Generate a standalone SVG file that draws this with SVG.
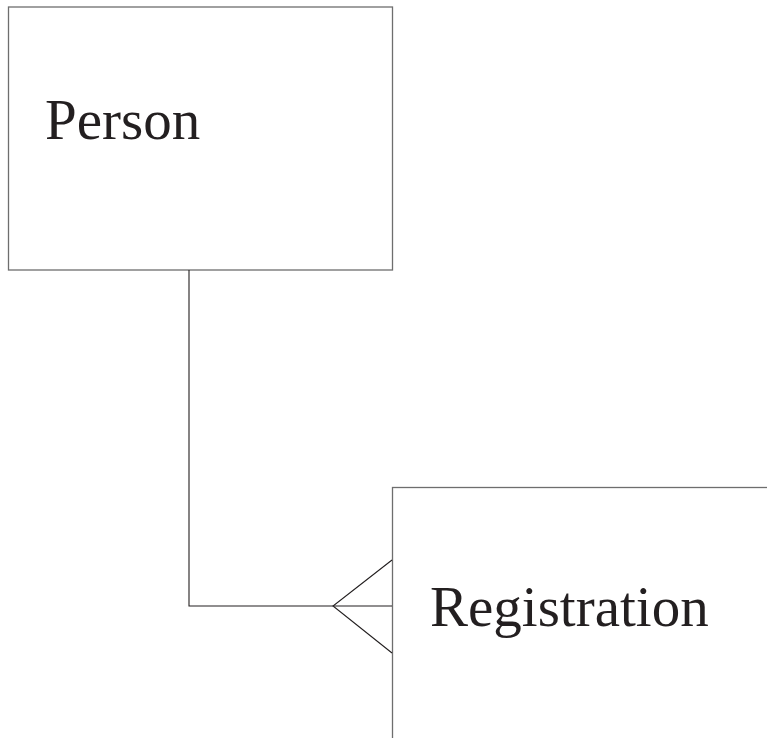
<svg xmlns="http://www.w3.org/2000/svg" width="767" height="738" viewBox="0 0 767 738">
<style>
.box{fill:#fff;stroke:#6e6e6e;stroke-width:1.3}
.lbl{font-family:"Liberation Serif",serif;font-size:57px;fill:#231f20}
.conn{fill:none;stroke:#231f20;stroke-width:1.1}
</style>
<rect width="767" height="738" fill="#fff"/>
<g id="person">
<rect class="box" x="8.5" y="7" width="384" height="263"/>
<text class="lbl" x="45" y="139">Person</text>
</g>
<g id="registration">
<rect class="box" x="392.5" y="487.5" width="380" height="260"/>
<text class="lbl" x="430" y="626">Registration</text>
</g>
<g id="connectors">
<polyline class="conn" points="189,270 189,606 392,606"/>
<polyline class="conn" points="392,560 333,606 392,653"/>
</g>
</svg>
